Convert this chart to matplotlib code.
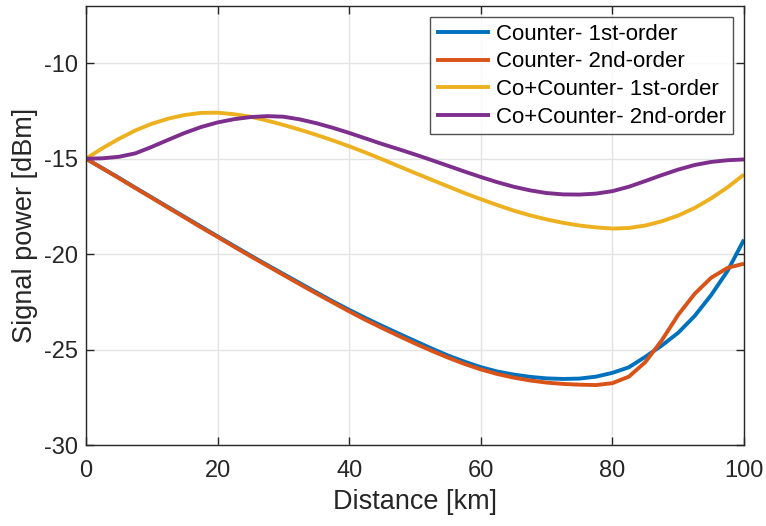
import matplotlib
matplotlib.use("Agg")
import matplotlib.pyplot as plt

plt.rcParams['font.family'] = ['Liberation Sans', 'DejaVu Sans']
plt.rcParams['axes.unicode_minus'] = False

distance_km = [0, 2.5, 5, 7.5, 10, 12.5, 15, 17.5, 20, 22.5, 25, 27.5, 30, 32.5, 35, 37.5,
               40, 42.5, 45, 47.5, 50, 52.5, 55, 57.5, 60, 62.5, 65, 67.5, 70, 72.5, 75,
               77.5, 80, 82.5, 85, 87.5, 90, 92.5, 95, 97.5, 100]

counter_1st = [-15.0, -15.5, -16.0, -16.52, -17.03, -17.54, -18.05, -18.56, -19.07, -19.57,
               -20.07, -20.56, -21.04, -21.52, -22.0, -22.47, -22.92, -23.35, -23.76, -24.16,
               -24.55, -24.94, -25.31, -25.63, -25.92, -26.15, -26.31, -26.43, -26.51, -26.54,
               -26.52, -26.42, -26.22, -25.93, -25.38, -24.79, -24.12, -23.24, -22.15, -20.88, -19.24]

counter_2nd = [-15.0, -15.51, -16.02, -16.54, -17.05, -17.57, -18.08, -18.6, -19.1, -19.61,
               -20.11, -20.6, -21.09, -21.58, -22.06, -22.53, -23.0, -23.45, -23.87, -24.28,
               -24.68, -25.06, -25.42, -25.75, -26.04, -26.28, -26.47, -26.62, -26.73, -26.8,
               -26.84, -26.86, -26.76, -26.42, -25.66, -24.52, -23.18, -22.08, -21.24, -20.72, -20.5]

co_counter_1st = [-15.0, -14.45, -13.96, -13.52, -13.17, -12.9, -12.71, -12.6, -12.59, -12.67,
                  -12.8, -13.0, -13.23, -13.48, -13.75, -14.04, -14.35, -14.68, -15.03, -15.39,
                  -15.75, -16.1, -16.45, -16.8, -17.12, -17.43, -17.72, -17.97, -18.18, -18.36,
                  -18.5, -18.6, -18.66, -18.63, -18.5, -18.28, -17.98, -17.58, -17.08, -16.5, -15.83]

co_counter_2nd = [-15.0, -14.98, -14.9, -14.72, -14.38, -14.01, -13.65, -13.34, -13.1, -12.93,
                  -12.82, -12.77, -12.8, -12.94, -13.14, -13.38, -13.65, -13.94, -14.23, -14.5,
                  -14.78, -15.07, -15.37, -15.67, -15.96, -16.23, -16.47, -16.66, -16.8, -16.87,
                  -16.88, -16.83, -16.7, -16.47, -16.17, -15.86, -15.57, -15.33, -15.17, -15.08, -15.04]

series_labels = ["Counter- 1st-order", "Counter- 2nd-order",
                 "Co+Counter- 1st-order", "Co+Counter- 2nd-order"]
series_colors = ["#0072BD", "#D95319", "#EDB120", "#7E2F8E"]
x_ticks = [0, 20, 40, 60, 80, 100]
y_ticks = [-30, -25, -20, -15, -10]

fig = plt.figure(figsize=(7.66, 5.26), dpi=100)
ax = fig.add_axes([86/766, 1 - 445/526, (744 - 86)/766, (445 - 6)/526])

for ys, lab, col in zip([counter_1st, counter_2nd, co_counter_1st, co_counter_2nd],
                        series_labels, series_colors):
    ax.plot(distance_km, ys, color=col, lw=2.8, label=lab,
            solid_joinstyle='round', solid_capstyle='butt')

ax.set_xlim(0, 100)
ax.set_ylim(-30, -7)
ax.set_xticks(x_ticks)
ax.set_yticks(y_ticks)
ax.grid(True, color='#e3e3e3', lw=1.0)
ax.set_axisbelow(True)
ax.tick_params(direction='in', top=True, right=True, length=6, width=1,
               colors='#262626', labelsize=17, pad=6)
ax.tick_params(axis='x', pad=11)
for s in ax.spines.values():
    s.set_color('#262626')
    s.set_linewidth(1.0)

ax.set_xlabel("Distance [km]", fontsize=19.5, color='#262626', labelpad=5)
ax.set_ylabel("Signal power [dBm]", fontsize=19.5, color='#262626', labelpad=4)

leg = ax.legend(loc='upper right', bbox_to_anchor=(0.9833, 0.975), fontsize=16,
                frameon=True, fancybox=False, borderpad=0.3, handlelength=2.4,
                handletextpad=0.3, labelspacing=0.3, borderaxespad=0.0)
leg.get_frame().set_edgecolor('#262626')
leg.get_frame().set_linewidth(1.0)
for t in leg.get_texts():
    t.set_color('black')

fig.savefig("out.png", dpi=100)
